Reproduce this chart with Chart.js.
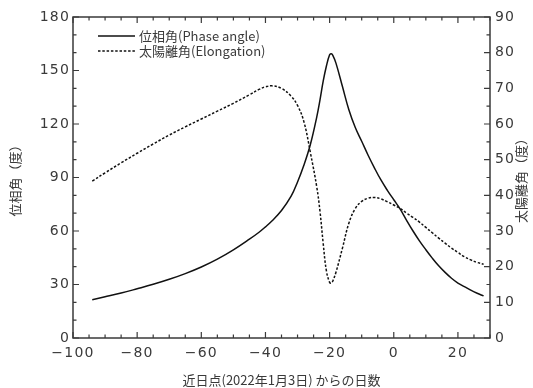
<!DOCTYPE html>
<html>
<head>
<meta charset="utf-8">
<script src="https://cdn.jsdelivr.net/npm/chart.js@4"></script>
<style>
  html, body { margin: 0; background: #fff; }
  #wrap { width: 533px; height: 388px; }
</style>
</head>
<body>
<div id="wrap"><canvas id="chart"></canvas></div>
<script>
// ── Data ─────────────────────────────────────────────────────
const days = [-94, -90, -85, -80, -75, -70, -65, -60, -55, -50, -45, -42, -40, -38, -35, -32, -30, -28, -26, -24, -23, -22, -21, -20, -19.5, -19, -18, -16, -14, -12, -10, -8, -6, -4, -2, 0, 2, 4, 6, 8, 10, 12, 14, 16, 18, 20, 22, 24, 26, 28];
const phaseAngle = [21.5, 23.1, 25.2, 27.6, 30.1, 32.9, 36.1, 39.8, 44.2, 49.4, 55.4, 59.3, 62.3, 65.6, 71.5, 79.5, 87.5, 97, 108.5, 124, 133.5, 144, 152.5, 158.8, 159.4, 158.5, 154, 141, 128, 118, 110.3, 102.5, 95.3, 88.6, 82.8, 77.5, 72.3, 66, 60, 54.5, 49.5, 44.8, 40.5, 36.8, 33.5, 30.8, 28.8, 26.8, 25.1, 23.6];
const elongation = [44, 46.3, 49.1, 51.8, 54.4, 56.9, 59.2, 61.4, 63.6, 65.8, 68.2, 69.7, 70.4, 70.7, 70.0, 67.8, 65.2, 60.6, 52, 42.3, 35.5, 26.5, 18.8, 15.6, 15.4, 16, 18.5, 25.2, 32.2, 36.3, 38.3, 39.2, 39.4, 39, 38.2, 37.3, 36.3, 35, 33.8, 32.5, 31, 29.5, 28, 26.6, 25.2, 24, 22.8, 21.9, 21.2, 20.7];

const xTicks = [-100, -80, -60, -40, -20, 0, 20];
const yLeftTicks = [0, 30, 60, 90, 120, 150, 180];
const yRightTicks = [0, 10, 20, 30, 40, 50, 60, 70, 80, 90];

const labels = {
    x: '近日点(2022年1月3日) からの日数',
    yLeft: '位相角（度）',
    yRight: '太陽離角（度）',
    phase: '位相角(Phase angle)',
    elong: '太陽離角(Elongation)'
};

const INK = '#3a3a3a';
const FONT = "'Noto Sans CJK JP', 'Noto Sans', sans-serif";
const NUM_FONT = "'DejaVu Sans', sans-serif";

const fmt = v => (v < 0 ? '\u2212' + Math.abs(v) : String(v));

// wider letter spacing for the tick numbers
const spacingPlugin = {
    id: 'spacing',
    beforeDraw(chart) { chart.ctx.letterSpacing = '1.2px'; },
    afterDraw(chart) { chart.ctx.letterSpacing = '0px'; }
};

// ── Frame, inward ticks, legend, axis titles ─────────────────
const framePlugin = {
    id: 'frame',
    afterDraw(chart) {
        const { ctx, chartArea: a, scales } = chart;
        ctx.save();
        ctx.letterSpacing = '0px';
        ctx.strokeStyle = INK;
        ctx.lineWidth = 1.5;
        ctx.strokeRect(a.left, a.top, a.right - a.left, a.bottom - a.top);

        ctx.lineWidth = 1.2;
        ctx.beginPath();
        for (let v = -100; v <= 30; v += 5) {
            const px = scales.x.getPixelForValue(v);
            const len = v % 20 === 0 ? 6 : 3.5;
            ctx.moveTo(px, a.bottom); ctx.lineTo(px, a.bottom - len);
            ctx.moveTo(px, a.top); ctx.lineTo(px, a.top + len);
        }
        for (let v = 0; v <= 180; v += 10) {
            const py = scales.y.getPixelForValue(v);
            const len = v % 30 === 0 ? 6 : 3.5;
            ctx.moveTo(a.left, py); ctx.lineTo(a.left + len, py);
        }
        for (let v = 0; v <= 90; v += 5) {
            const py = scales.y2.getPixelForValue(v);
            const len = v % 10 === 0 ? 6 : 3.5;
            ctx.moveTo(a.right, py); ctx.lineTo(a.right - len, py);
        }
        ctx.stroke();

        // legend
        const lx = a.left + 25, lw = 37;
        ctx.strokeStyle = '#111';
        ctx.lineWidth = 1.4;
        ctx.beginPath();
        ctx.moveTo(lx, 36); ctx.lineTo(lx + lw, 36);
        ctx.stroke();
        ctx.setLineDash([2.5, 1.8]);
        ctx.beginPath();
        ctx.moveTo(lx, 51); ctx.lineTo(lx + lw, 51);
        ctx.stroke();
        ctx.setLineDash([]);
        ctx.fillStyle = INK;
        ctx.font = `13px ${FONT}`;
        ctx.textBaseline = 'middle';
        ctx.textAlign = 'left';
        ctx.fillText(labels.phase, lx + lw + 4, 36);
        ctx.fillText(labels.elong, lx + lw + 4, 51);

        // axis titles
        const midY = (a.top + a.bottom) / 2;
        ctx.textAlign = 'center';
        ctx.fillText(labels.x, (a.left + a.right) / 2, 380);

        ctx.save();
        ctx.translate(15, midY);
        ctx.rotate(-Math.PI / 2);
        ctx.fillText(labels.yLeft, 0, 0);
        ctx.restore();

        ctx.translate(521, midY);
        ctx.rotate(-Math.PI / 2);
        ctx.fillText(labels.yRight, 0, 0);
        ctx.restore();
    }
};

const tickFont = { family: NUM_FONT, size: 14 };

new Chart(document.getElementById('chart'), {
    type: 'line',
    data: {
        datasets: [{
            label: labels.phase,
            data: days.map((d, i) => ({ x: d, y: phaseAngle[i] })),
            yAxisID: 'y',
            borderColor: '#111',
            borderWidth: 1.5,
            pointRadius: 0,
            tension: 0.4
        }, {
            label: labels.elong,
            data: days.map((d, i) => ({ x: d, y: elongation[i] })),
            yAxisID: 'y2',
            borderColor: '#111',
            borderWidth: 1.5,
            borderDash: [2.5, 1.8],
            pointRadius: 0,
            tension: 0.4
        }]
    },
    options: {
        responsive: true, maintainAspectRatio: false,
        animation: false,
        layout: { padding: { top: 17, left: 0, right: 0, bottom: 0 } },
        plugins: { legend: { display: false }, tooltip: { enabled: false } },
        scales: {
            x: {
                type: 'linear', min: -100, max: 30,
                afterBuildTicks: s => { s.ticks = xTicks.map(v => ({ value: v })); },
                afterFit: s => { s.height = 50; },
                grid: { display: false, drawTicks: false },
                border: { display: false },
                ticks: { color: INK, font: tickFont, padding: 7, maxRotation: 0, callback: v => fmt(v) }
            },
            y: {
                position: 'left', min: 0, max: 180,
                afterBuildTicks: s => { s.ticks = yLeftTicks.map(v => ({ value: v })); },
                afterFit: s => { s.width = 73; },
                grid: { display: false, drawTicks: false },
                border: { display: false },
                ticks: { color: INK, font: tickFont, padding: 3 }
            },
            y2: {
                position: 'right', min: 0, max: 90,
                afterBuildTicks: s => { s.ticks = yRightTicks.map(v => ({ value: v })); },
                afterFit: s => { s.width = 43; },
                grid: { display: false, drawTicks: false },
                border: { display: false },
                ticks: { color: INK, font: tickFont, padding: 5 }
            }
        }
    },
    plugins: [spacingPlugin, framePlugin]
});
</script>
</body>
</html>
